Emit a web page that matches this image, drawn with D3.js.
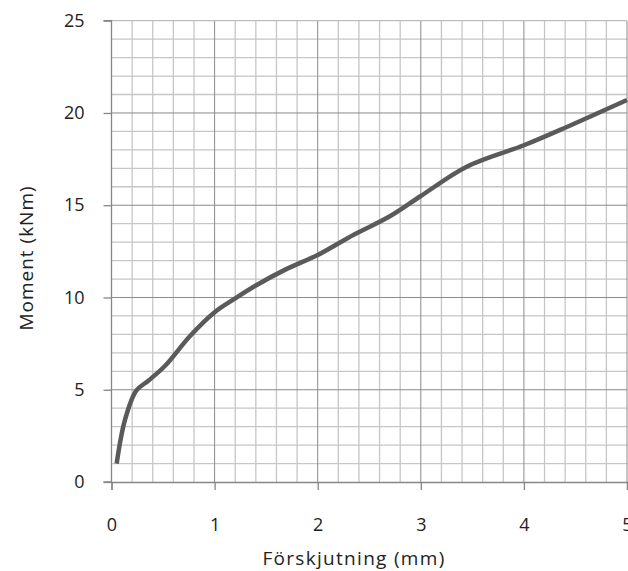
<!DOCTYPE html>
<html>
<head>
<meta charset="utf-8">
<script src="https://cdnjs.cloudflare.com/ajax/libs/d3/7.8.5/d3.min.js"></script>
<style>
  body { margin: 0; background: #fff; }
  text { font-family: "Open Sans", sans-serif; fill: #222; }
</style>
</head>
<body>
<div id="chart"></div>
<script>
// data
var displacement = [0.05, 0.13, 0.24, 0.36, 0.52, 0.76, 1.0, 1.2, 1.4, 1.7, 2.0, 2.35, 2.7, 3.0, 3.45, 4.0, 4.4, 5.0];
var moment = [1.0, 3.35, 4.95, 5.5, 6.3, 7.9, 9.2, 9.95, 10.65, 11.55, 12.3, 13.4, 14.4, 15.5, 17.1, 18.25, 19.2, 20.7];
var xTicks = [0, 1, 2, 3, 4, 5];
var yTicks = [0, 5, 10, 15, 20, 25];
var xLabel = "Förskjutning (mm)";
var yLabel = "Moment (kNm)";

var W = 628, H = 571;
var margin = { top: 20.7, right: 1, bottom: 89, left: 111.5 };
var width = W - margin.left - margin.right;
var height = H - margin.top - margin.bottom;

var svg = d3.select("#chart")
  .append("svg")
  .attr("width", W)
  .attr("height", H)
  .append("g")
  .attr("transform", `translate(${margin.left}, ${margin.top})`);

var x = d3.scaleLinear().domain([0, 5]).range([0, width]);
var y = d3.scaleLinear().domain([0, 25]).range([height, 0]);

// minor grid
svg.append("g")
  .selectAll("line")
  .data(d3.range(1, 25).map(function(i) { return i * 0.2; }).filter(function(v) { return Math.abs(v - Math.round(v)) > 1e-6; }))
  .enter().append("line")
  .attr("x1", function(d) { return x(d); })
  .attr("x2", function(d) { return x(d); })
  .attr("y1", 0).attr("y2", height)
  .style("stroke", "#c6c6c6").style("stroke-width", 1.3);

svg.append("g")
  .selectAll("line")
  .data(d3.range(1, 25).filter(function(v) { return v % 5 !== 0; }))
  .enter().append("line")
  .attr("x1", 0).attr("x2", width)
  .attr("y1", function(d) { return y(d); })
  .attr("y2", function(d) { return y(d); })
  .style("stroke", "#c6c6c6").style("stroke-width", 1.3);

// major grid
svg.append("g")
  .selectAll("line")
  .data(xTicks.slice(1))
  .enter().append("line")
  .attr("x1", function(d) { return x(d); })
  .attr("x2", function(d) { return x(d); })
  .attr("y1", 0).attr("y2", height)
  .style("stroke", "#8a8a8a").style("stroke-width", 1);

svg.append("g")
  .selectAll("line")
  .data(yTicks.slice(1, -1))
  .enter().append("line")
  .attr("x1", 0).attr("x2", width)
  .attr("y1", function(d) { return y(d); })
  .attr("y2", function(d) { return y(d); })
  .style("stroke", "#8a8a8a").style("stroke-width", 1);

// top border
svg.append("line")
  .attr("x1", 0).attr("x2", width)
  .attr("y1", y(25)).attr("y2", y(25))
  .style("stroke", "#bdbdbd").style("stroke-width", 1.3);

// axes
var xAxis = svg.append("g")
  .attr("transform", `translate(0, ${height})`)
  .call(d3.axisBottom(x).tickValues(xTicks).tickFormat(d3.format("d")).tickSize(8).tickPadding(28));

var yAxis = svg.append("g")
  .call(d3.axisLeft(y).tickValues(yTicks).tickFormat(d3.format("d")).tickSize(8).tickPadding(19));

[xAxis, yAxis].forEach(function(a) {
  a.select(".domain").style("stroke", "#868686").style("stroke-width", 1.3);
  a.selectAll(".tick line").style("stroke", "#868686").style("stroke-width", 1.3);
  a.selectAll(".tick text")
    .style("font-family", "'Open Sans', sans-serif")
    .style("font-size", "18px")
    .style("fill", "#222");
});
yAxis.select(".domain").attr("d", `M-8,${height}H0V0H-8`);

// the curve
var pts = displacement.map(function(d, i) { return [d, moment[i]]; });
svg.append("path")
  .datum(pts)
  .attr("d", d3.line()
    .x(function(d) { return x(d[0]); })
    .y(function(d) { return y(d[1]); })
    .curve(d3.curveCatmullRom.alpha(0.5)))
  .style("fill", "none")
  .style("stroke", "#5a5a5a")
  .style("stroke-width", 4.5)
  .style("stroke-linecap", "butt");

// axis titles
svg.append("text")
  .attr("x", 354 - margin.left)
  .attr("y", 565 - margin.top)
  .attr("text-anchor", "middle")
  .style("font-size", "19px")
  .style("letter-spacing", "1.3px")
  .text(xLabel);

svg.append("text")
  .attr("transform", `translate(${33 - margin.left}, ${258 - margin.top}) rotate(-90)`)
  .attr("text-anchor", "middle")
  .style("font-size", "19px")
  .style("letter-spacing", "1px")
  .text(yLabel);
</script>
</body>
</html>
